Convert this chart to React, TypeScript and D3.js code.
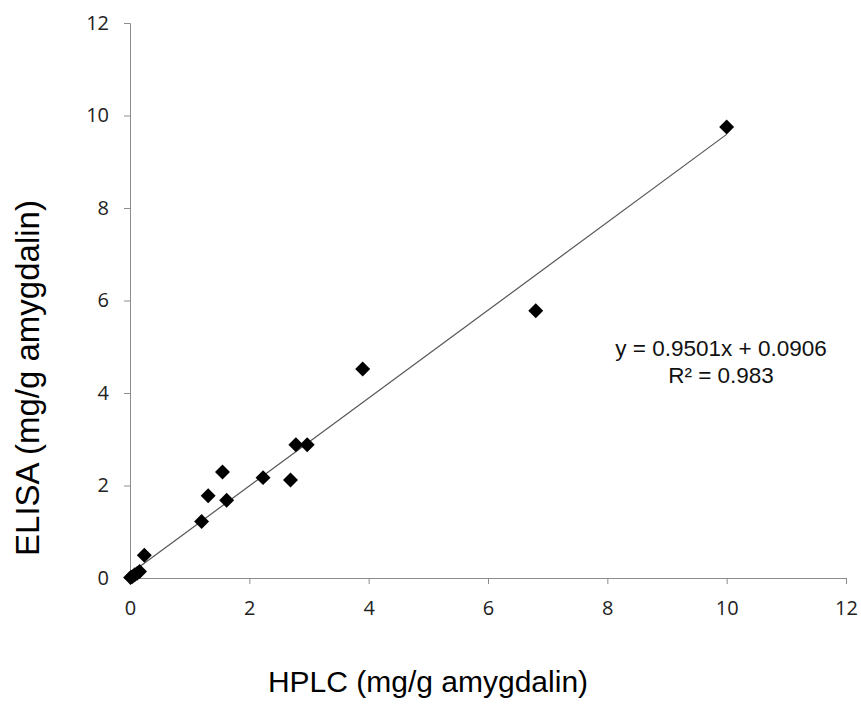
import { useEffect, useRef } from 'react'
import * as d3 from 'd3'

// HPLC vs ELISA (mg/g amygdalin)
const HPLC = [10.0, 6.8, 3.9, 2.78, 2.97, 2.23, 2.69, 1.55, 1.62, 1.31, 1.2, 0.24, 0.01, 0.04, 0.08, 0.12, 0.16]
const ELISA = [9.75, 5.78, 4.52, 2.88, 2.88, 2.17, 2.12, 2.29, 1.68, 1.78, 1.22, 0.49, 0.01, 0.03, 0.07, 0.1, 0.14]
const X_TICKS = [0, 2, 4, 6, 8, 10, 12]
const Y_TICKS = [0, 2, 4, 6, 8, 10, 12]
const SLOPE = 0.9501
const INTERCEPT = 0.0906
const EQ_LABEL = 'y = 0.9501x + 0.0906'
const R2_LABEL = 'R² = 0.983'

const W = 861
const H = 704
const MARGIN = { top: 23, right: 15, bottom: 126, left: 130 }

export default function App() {
  const svgRef = useRef<SVGSVGElement>(null)

  useEffect(() => {
    if (!svgRef.current) return
    const innerW = W - MARGIN.left - MARGIN.right
    const innerH = H - MARGIN.top - MARGIN.bottom

    const x = d3.scaleLinear().domain([0, 12]).range([0, innerW])
    const y = d3.scaleLinear().domain([0, 12]).range([innerH, 0])

    const svg = d3.select(svgRef.current)
    svg.selectAll('*').remove()
    svg.append('rect').attr('width', W).attr('height', H).attr('fill', '#fff')
    const g = svg.append('g').attr('transform', `translate(${MARGIN.left},${MARGIN.top})`)

    const tickFont = '"Open Sans", sans-serif'
    const styleTicks = (a: d3.Selection<SVGGElement, unknown, null, undefined>) => {
      a.attr('font-size', 20).attr('font-family', tickFont)
      a.selectAll('text')
        .attr('fill', '#222')
        .style('font-size', '20px')
        .style('font-family', tickFont)
    }

    // ── Y axis ───────────────────────────────────────────
    g.append('g')
      .call(d3.axisLeft(y).tickValues(Y_TICKS).tickSize(6).tickPadding(15).tickFormat(d3.format('d')))
      .call(styleTicks)
      .call((a) => a.select('.domain').attr('stroke', '#8c8c8c').attr('d', `M-6,0.5H0.5V${innerH}`))
      .call((a) => a.selectAll('line').attr('stroke', '#8c8c8c'))

    // ── X axis ───────────────────────────────────────────
    g.append('g').attr('transform', `translate(0,${innerH})`)
      .call(d3.axisBottom(x).tickValues(X_TICKS).tickSize(6).tickPadding(17).tickFormat(d3.format('d')))
      .call(styleTicks)
      .call((a) => a.select('.domain').attr('stroke', '#8c8c8c').attr('d', `M0.5,0.5H${innerW + 0.5}V6`))
      .call((a) => a.selectAll('line').attr('stroke', '#8c8c8c'))

    // ── Trend line ───────────────────────────────────────
    const xs = [0, d3.max(HPLC) as number]
    g.append('path')
      .datum(xs)
      .attr('fill', 'none')
      .attr('stroke', '#555')
      .attr('stroke-width', 1.2)
      .attr('d', d3.line<number>().x((d) => x(d)).y((d) => y(SLOPE * d + INTERCEPT)))

    // ── Points ───────────────────────────────────────────
    const diamond = d3.symbol().type(d3.symbolSquare).size(112)()
    g.selectAll('.pt')
      .data(HPLC.map((h, i) => [h, ELISA[i]]))
      .join('path')
      .attr('class', 'pt')
      .attr('d', diamond)
      .attr('transform', (d) => `translate(${x(d[0])},${y(d[1])}) rotate(45)`)
      .attr('fill', '#000')

    // ── Equation ─────────────────────────────────────────
    const labelFont = 'Arial, "Liberation Sans", sans-serif'
    g.append('text')
      .attr('x', 721 - MARGIN.left).attr('y', 356 - MARGIN.top)
      .attr('text-anchor', 'middle').style('font-size', '22.5px').style('font-family', labelFont)
      .attr('fill', '#111').text(EQ_LABEL)
    g.append('text')
      .attr('x', 721 - MARGIN.left).attr('y', 383 - MARGIN.top)
      .attr('text-anchor', 'middle').style('font-size', '22.5px').style('font-family', labelFont)
      .attr('fill', '#111').text(R2_LABEL)

    // ── Axis titles ──────────────────────────────────────
    svg.append('text')
      .attr('x', 428).attr('y', 692)
      .attr('text-anchor', 'middle').style('font-size', '30px').style('font-family', labelFont)
      .attr('fill', '#000').text('HPLC (mg/g amygdalin)')
    svg.append('text')
      .attr('transform', 'translate(39,378) rotate(-90)')
      .attr('text-anchor', 'middle').style('font-size', '33px').style('font-family', labelFont)
      .attr('fill', '#000').text('ELISA (mg/g amygdalin)')
  }, [])

  return (
    <div style={{ position: 'absolute', left: 0, top: 0 }}>
      <svg ref={svgRef} width={W} height={H} style={{ display: 'block' }} />
    </div>
  )
}
